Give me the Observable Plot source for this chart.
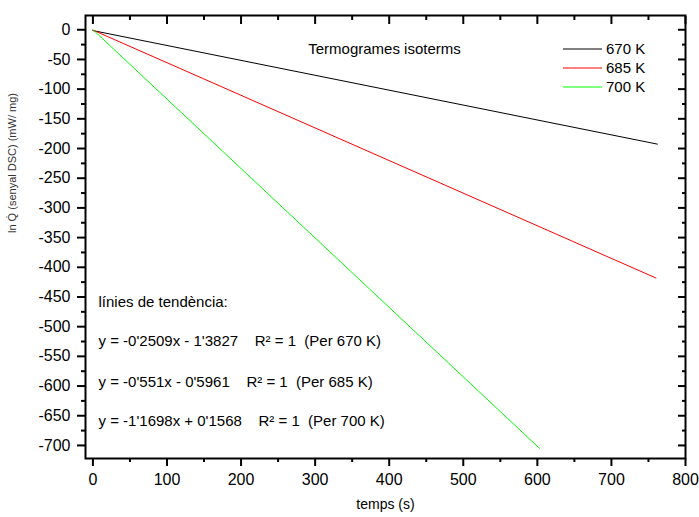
<!DOCTYPE html>
<html>
<head>
<meta charset="utf-8">
<script src="https://cdn.jsdelivr.net/npm/d3@7"></script>
<script src="https://cdn.jsdelivr.net/npm/@observablehq/plot@0.6"></script>
<style>
  html, body { margin: 0; padding: 0; background: #fff; }
  svg { font-family: "Liberation Sans", Arial, sans-serif; }
</style>
</head>
<body>
<div id="chart"></div>
<script>
// Series data (time in s, ln Q in mW/mg)
const series = ["670 K", "685 K", "700 K"];
const colors = ["#000000", "#ff0000", "#00ff00"];
const times670 = [0, 762];
const vals670 = [-1.4, -192.6];
const times685 = [0, 760];
const vals685 = [-0.6, -418];
const times700 = [0, 603];
const vals700 = [0.2, -705];

const xTicks = [0, 100, 200, 300, 400, 500, 600, 700, 800];
const xMinor = [50, 150, 250, 350, 450, 550, 650, 750];
const yTicks = [0, -50, -100, -150, -200, -250, -300, -350, -400, -450, -500, -550, -600, -650, -700];
const yMinor = [-25, -75, -125, -175, -225, -275, -325, -375, -425, -475, -525, -575, -625, -675];

const title = "Termogrames isoterms";
const trendHeader = "línies de tendència:";
const trendLines = [
  "y = -0'2509x - 1'3827\u00a0\u00a0\u00a0\u00a0R² = 1\u00a0\u00a0(Per 670 K)",
  "y = -0'551x - 0'5961\u00a0\u00a0\u00a0\u00a0R² = 1\u00a0\u00a0(Per 685 K)",
  "y = -1'1698x + 0'1568\u00a0\u00a0\u00a0\u00a0R² = 1\u00a0\u00a0(Per 700 K)"
];
const xLabel = "temps (s)";
const yLabel = "ln Q\u0307 (senyal DSC) (mW/ mg)";

const rows = [];
[[times670, vals670], [times685, vals685], [times700, vals700]].forEach(([ts, vs], i) => {
  ts.forEach((t, j) => rows.push({series: series[i], t, v: vs[j]}));
});

const font = "Liberation Sans, Arial, sans-serif";
const trendDy = [320, 361, 400];

const chart = Plot.plot({
  width: 699,
  height: 517,
  marginLeft: 85,
  marginRight: 14,
  marginTop: 15,
  marginBottom: 59,
  style: {fontFamily: font, background: "#fff"},
  x: {domain: [-10, 800]},
  y: {domain: [-722, 24]},
  color: {domain: series, range: colors},
  marks: [
    Plot.line(rows, {x: "t", y: "v", z: "series", stroke: "series", strokeWidth: 1}),
    // left axis
    Plot.axisY(yTicks, {anchor: "left", tickSize: 8, tickPadding: 7, fontSize: 16, strokeWidth: 2, label: null, tickFormat: d => String(d), fill: "#000"}),
    Plot.axisY(yMinor, {anchor: "left", tickSize: 4, text: null, strokeWidth: 2, label: null}),
    // right axis (inward ticks)
    Plot.axisY(yTicks, {anchor: "right", tickSize: -8, text: null, strokeWidth: 2, label: null}),
    Plot.axisY(yMinor, {anchor: "right", tickSize: -4, text: null, strokeWidth: 2, label: null}),
    // bottom axis
    Plot.axisX(xTicks, {anchor: "bottom", tickSize: 8, tickPadding: 7, fontSize: 16, strokeWidth: 2, label: null, tickFormat: d => String(d), fill: "#000"}),
    Plot.axisX(xMinor, {anchor: "bottom", tickSize: 4, text: null, strokeWidth: 2, label: null}),
    // top axis (inward ticks)
    Plot.axisX(xTicks, {anchor: "top", tickSize: -8, text: null, strokeWidth: 2, label: null}),
    Plot.axisX(xMinor, {anchor: "top", tickSize: -4, text: null, strokeWidth: 2, label: null}),
    Plot.frame({strokeWidth: 2}),
    // axis titles
    Plot.text([xLabel], {frameAnchor: "bottom", dy: 50, fontSize: 14, fill: "#000"}),
    Plot.text([yLabel], {frameAnchor: "left", dx: -73, dy: -4, rotate: -90, fontSize: 11, fill: "#333"}),
    // annotations
    Plot.text([title], {frameAnchor: "top-left", dx: 299, dy: 28, fontSize: 15, textAnchor: "middle", fill: "#000"}),
    Plot.text([trendHeader], {frameAnchor: "top-left", dx: 13, dy: 281, fontSize: 15, textAnchor: "start", fill: "#000"}),
    ...trendLines.map((t, i) => Plot.text([t], {frameAnchor: "top-left", dx: 13, dy: trendDy[i], fontSize: 15, textAnchor: "start", fill: "#000"}))
  ]
});

document.getElementById("chart").appendChild(chart);

// Legend (pixel space, top-right inside the frame)
const svg = d3.select(chart);
const legendY = [49, 68, 87];
const lg = svg.append("g").attr("font-family", font).attr("font-size", 15).attr("text-anchor", "start");
series.forEach((s, i) => {
  lg.append("line").attr("x1", 563).attr("x2", 602).attr("y1", legendY[i]).attr("y2", legendY[i])
    .attr("stroke", colors[i]).attr("stroke-width", 1);
  lg.append("text").attr("x", 606).attr("y", legendY[i]).attr("dy", "0.35em").attr("fill", "#000").text(s);
});
</script>
</body>
</html>
